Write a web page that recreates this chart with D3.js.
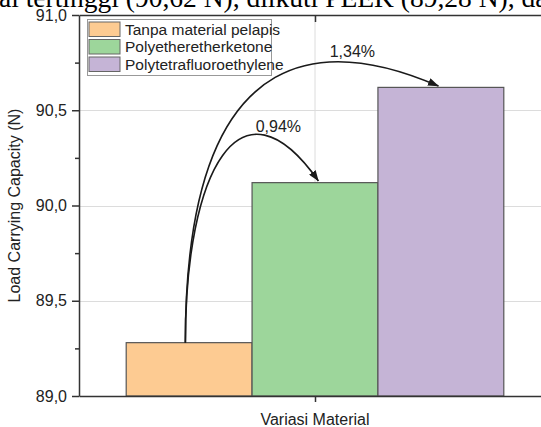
<!DOCTYPE html>
<html><head><meta charset="utf-8">
<script src="https://cdn.jsdelivr.net/npm/d3@7"></script>
<style>body{margin:0;background:#fff}svg{display:block;font-family:"Liberation Sans",Arial,sans-serif}</style>
</head><body><svg id="chart" width="541" height="427"></svg>
<script>
// ---- data ----
const categories = ["Tanpa material pelapis", "Polyetheretherketone", "Polytetrafluoroethylene"];
const values = [89.28, 90.12, 90.62];
const yTicks = [89.0, 89.5, 90.0, 90.5, 91.0];
const yMinorTicks = [89.25, 89.75, 90.25, 90.75];
const gridTicks = [89.5, 90.0, 90.5];
const increaseLabels = ["0,94%", "1,34%"];
const increaseTargets = [1, 2];
const xAxisTitle = "Variasi Material";
const yAxisTitle = "Load Carrying Capacity (N)";
const captionText = "ai tertinggi (90,62 N), diikuti PEEK (89,28 N), dan";
const colors = ["#FDCB92", "#9DD69B", "#C5B4D6"];

// ---- layout ----
const X0 = 79, X1 = 551, Y0 = 15, Y1 = 396;
const svg = d3.select("#chart");
const y = d3.scaleLinear().domain([89, 91]).range([Y1, Y0]);
const x = d3.scaleBand().domain(categories).range([X0, X1]).paddingInner(0).paddingOuter(0.375);
const bw = x.bandwidth();
const ux = u => x(categories[0]) + (u + 0.5) * bw;
const fmt = d => d.toFixed(1).replace(".", ",");
const axisColor = "#333";

// caption (cropped document text)
svg.append("text").attr("x", -1).attr("y", 7)
  .attr("font-family", "'Liberation Serif','Times New Roman',serif")
  .attr("font-size", 27.5).attr("fill", "#000").text(captionText);

// grid
const grid = svg.append("g").attr("stroke", "#dcdcdc").attr("stroke-width", 1);
grid.selectAll("line.h").data(gridTicks).join("line").attr("class", "h")
  .attr("x1", X0).attr("x2", X1).attr("y1", d => Math.round(y(d)) + 0.5).attr("y2", d => Math.round(y(d)) + 0.5);
grid.append("line").attr("x1", (X0 + X1) / 2).attr("x2", (X0 + X1) / 2).attr("y1", Y0).attr("y2", Y1);

// bars
svg.append("g").selectAll("rect").data(values).join("rect")
  .attr("x", (d, i) => x(categories[i]))
  .attr("width", bw)
  .attr("y", d => y(d))
  .attr("height", d => y(89) - y(d))
  .attr("fill", (d, i) => colors[i])
  .attr("stroke", "#555").attr("stroke-width", 1.2);

// axes
const yAxis = svg.append("g").attr("transform", `translate(${X0},0)`)
  .call(d3.axisLeft(y).tickValues(yTicks).tickFormat(fmt).tickSize(7).tickSizeOuter(0).tickPadding(5));
const yMinor = svg.append("g").attr("transform", `translate(${X0},0)`)
  .call(d3.axisLeft(y).tickValues(yMinorTicks).tickFormat("").tickSize(4).tickSizeOuter(0));
yMinor.select(".domain").remove();
[yAxis, yMinor].forEach(g => {
  g.selectAll("line").attr("stroke", axisColor).attr("stroke-width", 1.5);
  g.selectAll(".domain").attr("stroke", axisColor).attr("stroke-width", 1.5);
});
yAxis.selectAll("text").attr("font-size", 16).attr("fill", "#222").attr("font-family", "'Liberation Sans',Arial,sans-serif");

const xPoint = d3.scalePoint().domain([xAxisTitle]).range([X0, X1]).padding(0.5);
const xAxis = svg.append("g").attr("transform", `translate(0,${Y1})`)
  .call(d3.axisBottom(xPoint).tickSize(6).tickSizeOuter(0).tickFormat(""));
const xTop = svg.append("g").attr("transform", `translate(0,${Y0})`)
  .call(d3.axisTop(xPoint).tickSize(-7).tickSizeOuter(0).tickFormat(""));
[xAxis, xTop].forEach(g => {
  g.selectAll("line").attr("stroke", axisColor).attr("stroke-width", 1.5);
  g.selectAll(".domain").attr("stroke", axisColor).attr("stroke-width", 1.5);
});

// axis titles
svg.append("text").attr("x", xPoint(xAxisTitle)).attr("y", 425)
  .attr("text-anchor", "middle").attr("font-size", 16).attr("fill", "#222").text(xAxisTitle);
svg.append("text").attr("transform", `translate(20,${(Y0 + Y1) / 2}) rotate(-90)`)
  .attr("text-anchor", "middle").attr("font-size", 16).attr("fill", "#222").text(yAxisTitle);

// arrows
const defs = svg.append("defs");
defs.append("marker").attr("id", "ah").attr("viewBox", "0 0 11 8")
  .attr("refX", 10.5).attr("refY", 4).attr("markerWidth", 11).attr("markerHeight", 8)
  .attr("markerUnits", "userSpaceOnUse").attr("orient", "auto")
  .append("path").attr("d", "M0,0L11,4L0,8Z").attr("fill", "#1a1a1a");

const arrowLayout = [
  { start: -0.03, c1: [-0.03, 90.186], c2: [0.407, 90.711], tipDu: 0.027, tipDv: 0.009, label: [0.709, 90.385] },
  { start: -0.03, c1: [-0.03, 90.974], c2: [1.202, 90.85], tipDu: -0.019, tipDv: 0.007, label: [1.297, 90.778] }
];
increaseTargets.forEach((t, i) => {
  const L = arrowLayout[i];
  const p = d3.path();
  p.moveTo(ux(L.start), y(values[0]));
  p.bezierCurveTo(ux(L.c1[0]), y(L.c1[1]), ux(L.c2[0]), y(L.c2[1]), ux(t + L.tipDu), y(values[t] + L.tipDv));
  svg.append("path").attr("d", p.toString()).attr("fill", "none")
    .attr("stroke", "#1a1a1a").attr("stroke-width", 1.6).attr("marker-end", "url(#ah)");
  svg.append("text").attr("x", ux(L.label[0])).attr("y", y(L.label[1]))
    .attr("text-anchor", "middle").attr("font-size", 16).attr("fill", "#222").text(increaseLabels[i]);
});

// legend
const lg = svg.append("g");
lg.append("rect").attr("x", 87.5).attr("y", 19.5).attr("width", 184).attr("height", 56)
  .attr("fill", "#fff").attr("stroke", "#999").attr("stroke-width", 1);
categories.forEach((c, i) => {
  const ry = 22 + i * 17.5;
  lg.append("rect").attr("x", 89).attr("y", ry).attr("width", 31).attr("height", 14.5)
    .attr("fill", colors[i]).attr("stroke", "#666").attr("stroke-width", 1);
  lg.append("text").attr("x", 125).attr("y", ry + 12.5).attr("font-size", 15.5).attr("fill", "#222").text(c);
});
</script></body></html>
